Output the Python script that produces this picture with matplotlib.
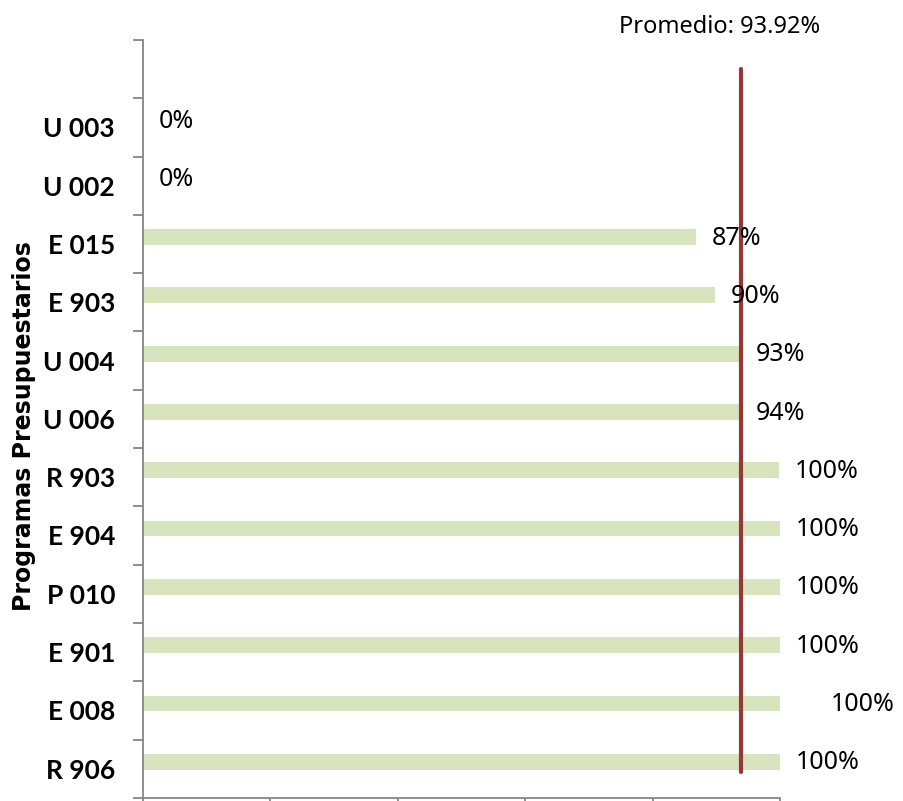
import matplotlib
matplotlib.use("Agg")
import matplotlib.pyplot as plt
import numpy as np

# data, bottom to top
programas = ["R 906", "E 008", "E 901", "P 010", "E 904", "R 903",
             "U 006", "U 004", "E 903", "E 015", "U 002", "U 003"]
avance = [1.00, 1.00, 1.00, 1.00, 1.00, 0.998,
          0.937, 0.937, 0.898, 0.868, 0.0, 0.0]
etiquetas = ["100%", "100%", "100%", "100%", "100%", "100%",
             "94%", "93%", "90%", "87%", "0%", "0%"]
promedio = 0.9392

bar_color = "#d7e4bd"
line_color = "#953735"
axis_color = "#868686"

fig = plt.figure(figsize=(9.04, 8.01), dpi=100)
ax = fig.add_axes([0.158, 0.004, 0.705, 0.946])

pos = np.arange(len(programas))
ax.barh(pos + 0.12, avance, height=0.27, color=bar_color, zorder=2)

# data labels
for i, (v, t) in enumerate(zip(avance, etiquetas)):
    dx = 0.08 if programas[i] == "E 008" else 0.025
    ax.text(v + dx, i + 0.10, t, va="center", ha="left",
            fontsize=18, family="Noto Sans", color="black", zorder=4)

# average line
ax.plot([promedio, promedio], [-0.05, len(programas)], color=line_color,
        lw=3.0, solid_capstyle="round", zorder=3)
ax.text(promedio - 0.035, len(programas) + 0.72, f"Promedio: {promedio*100:.2f}%",
        ha="center", va="center", fontsize=17, family="Noto Sans", clip_on=False)

ax.set_xlim(0, 1.0)
ax.set_ylim(-0.5, len(programas) + 0.5)

ax.set_xticks(np.arange(0, 1.01, 0.2))
ax.set_xticklabels([])
ax.set_yticks(np.arange(-0.5, len(programas) + 1, 1.0))
ax.set_yticklabels([])
ax.set_yticks(pos, minor=True)
ax.set_yticklabels(programas, minor=True, fontsize=19, fontweight="bold", family="Lato")
ax.tick_params(axis="y", which="minor", length=0, pad=20)
ax.tick_params(axis="both", which="major", length=7, color=axis_color, width=1.3)

for s in ["top", "right"]:
    ax.spines[s].set_visible(False)
for s in ["left", "bottom"]:
    ax.spines[s].set_color(axis_color)
    ax.spines[s].set_linewidth(1.3)

ax.set_ylabel("Programas Presupuestarios", fontsize=17, fontweight="bold",
              family="DejaVu Sans")
ax.yaxis.set_label_coords(-0.168, 0.49)

fig.savefig("out.png", dpi=100)
